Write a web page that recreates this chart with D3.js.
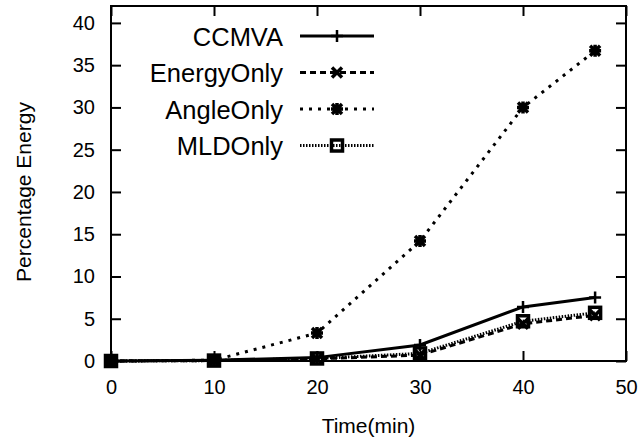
<!DOCTYPE html>
<html>
<head>
<meta charset="utf-8">
<script src="https://cdn.jsdelivr.net/npm/d3@7"></script>
<style>
  body { margin: 0; background: #fff; }
  text { font-family: "Liberation Sans", Arial, Helvetica, sans-serif; fill: #000; }
</style>
</head>
<body>
<div id="chart"></div>
<script>
var times = [0, 10, 20, 30, 40, 47];
var ccmva = [0, 0.1, 0.4, 1.9, 6.4, 7.5];
var energyOnly = [0, 0.05, 0.25, 0.7, 4.4, 5.4];
var angleOnly = [0, 0.1, 3.3, 14.2, 30.0, 36.7];
var mldOnly = [0, 0.05, 0.3, 0.9, 4.7, 5.7];

var seriesNames = ["CCMVA", "EnergyOnly", "AngleOnly", "MLDOnly"];
var xTicks = [0, 10, 20, 30, 40, 50];
var yTicks = [0, 5, 10, 15, 20, 25, 30, 35, 40];

var WIDTH = 642, HEIGHT = 442;
var PLOT_LEFT = 111, PLOT_RIGHT = 626, PLOT_TOP = 6, PLOT_BOTTOM = 361;

var x = d3.scaleLinear().domain([0, 50]).range([PLOT_LEFT, PLOT_RIGHT]);
var y = d3.scaleLinear().domain([0, 42]).range([PLOT_BOTTOM, PLOT_TOP]);

var svg = d3.select("#chart").append("svg")
    .attr("width", WIDTH)
    .attr("height", HEIGHT);

// styles per series: dash, marker
var styles = [
    {data: ccmva, dash: null, marker: "plus"},
    {data: energyOnly, dash: "6,4", marker: "cross"},
    {data: angleOnly, dash: "3,6", marker: "star"},
    {data: mldOnly, dash: "1.5,1.5", marker: "box"}
];

function markerPath(type) {
    var s = 6;
    if (type == "plus") return "M" + -s + ",0H" + s + "M0," + -s + "V" + s;
    if (type == "cross") return "M-5,-5L5,5M-5,5L5,-5";
    if (type == "star") return "M" + -s + ",0H" + s + "M0," + -s + "V" + s + "M-5,-5L5,5M-5,5L5,-5";
    return null;
}

function drawMarker(g, type, cx, cy) {
    if (type == "box") {
        g.append("rect")
            .attr("x", cx - 5.5).attr("y", cy - 5.5)
            .attr("width", 11).attr("height", 11)
            .attr("fill", "none").attr("stroke", "#000").attr("stroke-width", 3.5);
    } else {
        g.append("path")
            .attr("transform", "translate(" + cx + "," + cy + ")")
            .attr("d", markerPath(type))
            .attr("fill", "none").attr("stroke", "#000")
            .attr("stroke-width", type == "plus" ? 2.5 : 3.5);
    }
}

// axes with inward ticks, mirrored
var axisG = svg.append("g");
axisG.append("g")
    .attr("transform", "translate(0," + PLOT_BOTTOM + ")")
    .call(d3.axisBottom(x).tickValues(xTicks).tickSizeInner(-10).tickSizeOuter(0).tickPadding(19));
axisG.append("g")
    .attr("transform", "translate(0," + PLOT_TOP + ")")
    .call(d3.axisTop(x).tickValues(xTicks).tickSizeInner(-10).tickSizeOuter(0).tickFormat(""));
axisG.append("g")
    .attr("transform", "translate(" + PLOT_LEFT + ",0)")
    .call(d3.axisLeft(y).tickValues(yTicks).tickSizeInner(-10).tickSizeOuter(0).tickPadding(16));
axisG.append("g")
    .attr("transform", "translate(" + PLOT_RIGHT + ",0)")
    .call(d3.axisRight(y).tickValues(yTicks).tickSizeInner(-10).tickSizeOuter(0).tickFormat(""));

axisG.selectAll(".domain").remove();
axisG.selectAll(".tick line").attr("stroke", "#000").attr("stroke-width", 2);
axisG.selectAll(".tick text").style("font-size", "20px").attr("fill", "#000");

svg.append("rect")
    .attr("x", PLOT_LEFT).attr("y", PLOT_TOP)
    .attr("width", PLOT_RIGHT - PLOT_LEFT).attr("height", PLOT_BOTTOM - PLOT_TOP)
    .attr("fill", "none").attr("stroke", "#000").attr("stroke-width", 2);

// series
var line = d3.line()
    .x(function (d) { return x(d[0]); })
    .y(function (d) { return y(d[1]); });

var plot = svg.append("g");
styles.forEach(function (s) {
    var pts = times.map(function (t, i) { return [t, s.data[i]]; });
    plot.append("path")
        .datum(pts)
        .attr("d", line)
        .attr("fill", "none")
        .attr("stroke", "#000")
        .attr("stroke-width", 3)
        .attr("stroke-dasharray", s.dash);
    pts.forEach(function (p) {
        drawMarker(plot, s.marker, x(p[0]), y(p[1]));
    });
});

// legend
var legend = svg.append("g");
styles.forEach(function (s, i) {
    var ly = 36 + i * 36.5;
    legend.append("text")
        .attr("x", 283).attr("y", ly + 9.5)
        .attr("text-anchor", "end")
        .style("font-size", "25.5px")
        .text(seriesNames[i]);
    legend.append("line")
        .attr("x1", 300).attr("x2", 374)
        .attr("y1", ly).attr("y2", ly)
        .attr("stroke", "#000").attr("stroke-width", 3)
        .attr("stroke-dasharray", s.dash);
    drawMarker(legend, s.marker, 337, ly);
});

// axis titles
svg.append("text")
    .attr("x", (PLOT_LEFT + PLOT_RIGHT) / 2).attr("y", 433)
    .attr("text-anchor", "middle")
    .style("font-size", "21px")
    .text("Time(min)");

svg.append("text")
    .attr("transform", "translate(31,192)rotate(-90)")
    .attr("text-anchor", "middle")
    .style("font-size", "21px")
    .text("Percentage Energy");
</script>
</body>
</html>
